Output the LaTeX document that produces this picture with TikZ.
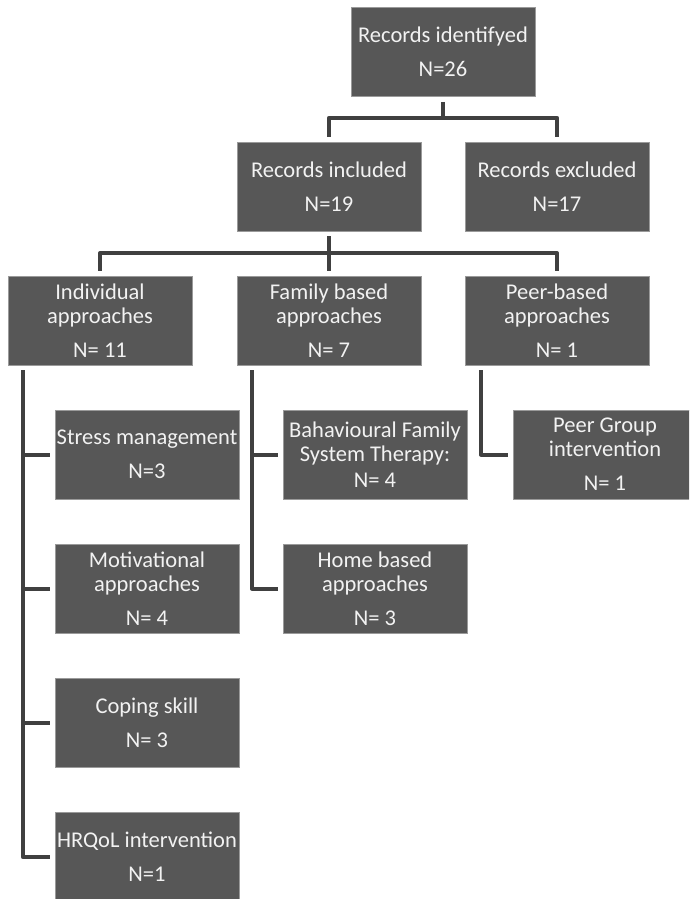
\documentclass[tikz,border=0pt]{standalone}
\usepackage{fontspec}
\setmainfont{Carlito}
\definecolor{boxfill}{HTML}{575757}
\definecolor{boxedge}{HTML}{9A9A9A}
\definecolor{linkcol}{HTML}{404040}
\definecolor{txtcol}{HTML}{F2F2F2}
\tikzset{
  card/.style={rectangle, fill=boxfill, draw=boxedge, line width=0.6pt,
    minimum width=184pt, minimum height=89pt, inner sep=0pt,
    text=txtcol, align=center, font=\fontsize{22.5pt}{24pt}\selectfont},
  link/.style={draw=linkcol, line width=4pt, line join=round},
  gap/.style={shorten <=5pt, shorten >=5pt},
  tip/.style={shorten >=5pt}
}
\begin{document}
\begin{tikzpicture}[x=1pt, y=-1pt]
\useasboundingbox (0,0) rectangle (689,899);
\clip (0,0) rectangle (689,899);

% level 1 and 2
\node[card] (top) at (443,52) {Records identifyed\\[10pt]N=26};
\node[card] (inc) at (329,186.5) {Records included\\[10pt]N=19};
\node[card] (exc) at (557,186.5) {Records excluded\\[10pt]N=17};

% level 3: approach groups
\node[card] (ind)  at (100,320.5) {Individual\\approaches\\[10pt]N= 11};
\node[card] (fam)  at (329,320.5) {Family based\\approaches\\[10pt]N= 7};
\node[card] (peer) at (557,320.5) {Peer-based\\approaches\\[10pt]N= 1};

% individual interventions
\node[card] (str) at (147,454.5) {Stress management\\[10pt]N=3};
\node[card] (mot) at (147,588.5) {Motivational\\approaches\\[10pt]N= 4};
\node[card] (cop) at (147,723)   {Coping skill\\[10pt]N= 3};
\node[card] (hrq) at (147,857)   {HRQoL intervention\\[10pt]N=1};

% family interventions
\node[card] (bfs)  at (375,454.5) {Bahavioural Family\\System Therapy:\\[2pt]N= 4};
\node[card] (home) at (375,588.5) {Home based\\approaches\\[10pt]N= 3};

% peer intervention
\node[card] (pgi) at (605,454.5) {Peer Group\\intervention\\[10pt]N= 1};

% fork below the identified records
\path (top.south) ++(0,21) coordinate (j1);
\draw[link, shorten <=5pt] (top.south) -- (j1);
\draw[link, gap] (inc.north) |- (j1) -| (exc.north);

% fork below the included records
\path (inc.south) ++(0,22) coordinate (j2);
\draw[link, shorten <=5pt, tip] (inc.south) -- (fam.north);
\draw[link, gap] (ind.north) |- (j2) -| (peer.north);

% side branches
\coordinate (bi) at ([xshift=15pt]ind.south west);
\coordinate (bf) at ([xshift=15pt]fam.south west);
\coordinate (bp) at ([xshift=16pt]peer.south west);

\draw[link, gap] (bi) |- (hrq.west);
\draw[link, tip] (bi |- str.west) -- (str.west);
\draw[link, tip] (bi |- mot.west) -- (mot.west);
\draw[link, tip] (bi |- cop.west) -- (cop.west);

\draw[link, gap] (bf) |- (home.west);
\draw[link, tip] (bf |- bfs.west) -- (bfs.west);

\draw[link, gap] (bp) |- (pgi.west);
\end{tikzpicture}
\end{document}
